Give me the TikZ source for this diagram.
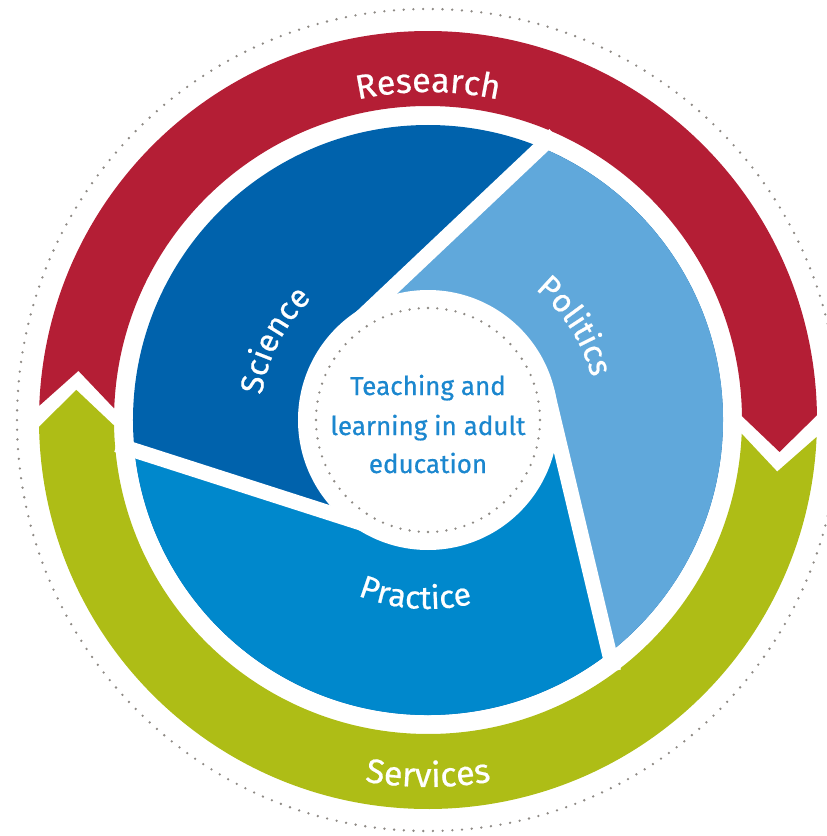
\documentclass[tikz,border=0pt]{standalone}
\usepackage{fontspec}
\setmainfont{Fira Sans}[FakeBold=0.6]
\usetikzlibrary{decorations.text}
\definecolor{ringred}{HTML}{B41E35}
\definecolor{ringgreen}{HTML}{AEBD16}
\definecolor{scienceblue}{HTML}{0062AC}
\definecolor{politicsblue}{HTML}{60A8DB}
\definecolor{practiceblue}{HTML}{0088CC}
\definecolor{coretext}{HTML}{1B87CF}
\definecolor{dotgray}{HTML}{8E8A85}
\newcommand\ringfont{\fontsize{34}{34}\selectfont}
\newcommand\segfont{\fontsize{32}{32}\selectfont}
\newcommand\corefont{\fontsize{26}{39}\selectfont}
\begin{document}
\begin{tikzpicture}[x=1pt,y=1pt,
  dotring/.style={draw=dotgray, line width=2.6pt, line cap=round},
  gapline/.style={draw=white, line width=15pt},
  corelabel/.style={text=coretext, font=\corefont, anchor=base, inner sep=0pt},
  curvedlabel/.style={decorate, decoration={text along path, text align=center, text color=white, text={#1}}}
]
\useasboundingbox (-428,-416) rectangle (399,420);
% outer dotted circle
\draw[dotring, dash pattern=on 0pt off 9.71pt] (0,0) circle[radius=411];
% outer ring: Research (red) and Services (green)
\fill[ringred] (0.7:389) arc[start angle=0.7, end angle=177.9, radius=389]
  -- (172:353) -- (177.9:314) arc[start angle=177.9, end angle=0.7, radius=314]
  -- (-5.2:353) -- cycle;
\fill[ringgreen] (181:389) arc[start angle=181, end angle=357.5, radius=389]
  -- (351.6:353) -- (357.5:314) arc[start angle=357.5, end angle=181, radius=314]
  -- (175.1:353) -- cycle;
% inner segments
\coordinate (FA) at (-82.9,87.5);
\coordinate (FB) at (-36.3,-112.9);
\coordinate (FC) at (119.1,28.3);
\coordinate (PA) at (126.5,285.5);
\coordinate (PB) at (-311.4,-24.6);
\coordinate (PC) at (185.6,-251.2);
\fill[scienceblue] (0,0) circle[radius=295];
\fill[politicsblue] (308:295) arc[start angle=308, end angle=427.6, radius=295] -- (FA) -- (0,0) -- (FC) -- cycle;
\fill[practiceblue] (186:295) arc[start angle=186, end angle=308, radius=295] -- (FC) -- (0,0) -- (FB) -- cycle;
\draw[gapline] (PA) -- (FA);
\draw[gapline] (PB) -- (FB);
\draw[gapline] (PC) -- (FC);
% centre
\fill[white] (0,0) circle[radius=130];
\draw[dotring, dash pattern=on 0pt off 9.26pt] (0,0) circle[radius=112];
\node[corelabel] (core1) at (0,25) {Teaching and};
\node[corelabel] (core2) at (0,-15) {learning in adult};
\node[corelabel] (core3) at (0,-53) {education};
% curved labels
\path[curvedlabel={|\ringfont|Research}] (125:328) arc[start angle=125, end angle=55, radius=328];
\path[curvedlabel={|\ringfont|Services}] (235:367) arc[start angle=235, end angle=305, radius=367];
\path[curvedlabel={|\segfont|Science}] (192.6:168) arc[start angle=192.6, end angle=112.6, radius=168];
\path[curvedlabel={|\segfont|Politics}] (72.6:169) arc[start angle=72.6, end angle=-7.4, radius=169];
\path[curvedlabel={|\segfont|Practice}] (225.9:189) arc[start angle=225.9, end angle=305.9, radius=189];
\end{tikzpicture}
\end{document}
